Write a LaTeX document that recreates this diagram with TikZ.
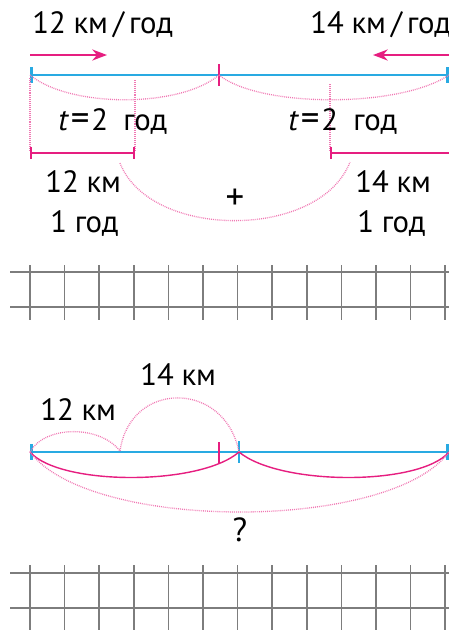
\documentclass[tikz,border=0pt]{standalone}
\usepackage{fontspec}
\setmainfont{PT Sans}
\usetikzlibrary{arrows.meta}

\definecolor{roadblue}{RGB}{41,170,226}
\definecolor{magline}{RGB}{230,30,128}
\definecolor{gridgray}{RGB}{125,125,125}

\tikzset{
  road/.style={roadblue, line width=1.6pt},
  part/.style={magline, line width=1.4pt},
  hint/.style={magline!60, line width=0.75pt, dash pattern=on 0.5pt off 0.6pt},
  label/.style={inner sep=0pt, anchor=base west, font=\fontsize{17.5}{20}\selectfont},
  gridline/.style={gridgray, line width=0.9pt}
}
\newcommand{\gap}{\hspace{0.25em}}

\begin{document}
\begin{tikzpicture}[x=0.02cm, y=-0.02cm, >=Stealth, line cap=butt]
  \useasboundingbox (0,0) rectangle (449,630);

  % speeds and directions
  \node[label] (speedL) at (32,33) {12\gap км\,/\,год};
  \node[label] (speedR) at (310,33) {14\gap км\,/\,год};
  \draw[->, magline, line width=1.2pt] (30,55) -- (107,55);
  \draw[->, magline, line width=1.2pt] (449,55) -- (373,55);

  % the whole road
  \coordinate (A) at (30,75);
  \coordinate (M) at (219,75);
  \coordinate (B) at (449,75);
  \draw[road, {Bar[width=9pt]}-{Bar[width=9pt]}] (A) -- (B);
  \draw[magline, line width=1.4pt] (219,64) -- (219,86);
  \draw[hint] (A) .. controls (70,108) and (180,108) .. (M);
  \draw[hint] (M) .. controls (260,108) and (400,108) .. (B);

  % one hour of each
  \draw[hint] (30,78) -- (30,150);
  \draw[hint] (135,80) -- (135,150);
  \draw[hint] (330,84) -- (330,150);
  \node[label] (timeL) at (58,130) {\textit{t}\kern1pt{\fontsize{21}{20}\selectfont=}\kern1pt2\gap\gap год};
  \node[label] (timeR) at (288,130) {\textit{t}\kern1pt{\fontsize{21}{20}\selectfont=}\kern1pt2\gap\gap год};
  \draw[part, {Bar[width=7pt]}-{Bar[width=7pt]}] (30,153) -- (135,153);
  \draw[part, {Bar[width=7pt]}-] (330,153) -- (449,153);

  \node[label] (distL) at (45,192) {12\gap км};
  \node[label] (hourL) at (50,232) {1\gap год};
  \node[label] (distR) at (355,192) {14\gap км};
  \node[label] (hourR) at (357,232) {1\gap год};
  \node[font=\fontsize{21}{24}\selectfont, inner sep=0pt] (plus) at (235,199) {+};
  \draw[hint] (120,163) .. controls (150,240) and (320,240) .. (350,162);

  % first grid
  \draw[gridline] (10,272) -- (449,272);
  \draw[gridline] (10,307) -- (449,307);
  \foreach \k in {0,...,12}
    \draw[gridline] (30+34.6*\k,265) -- (30+34.6*\k,320);

  % second drawing
  \node[label] (kmB) at (140,385) {14\gap км};
  \node[label] (kmA) at (40,420) {12\gap км};
  \coordinate (P) at (30,452);
  \coordinate (C) at (120,451);
  \coordinate (Q) at (239,452);
  \coordinate (R) at (449,452);
  \draw[road, {Bar[width=9pt]}-{Bar[width=9pt]}] (P) -- (R);
  \draw[roadblue, line width=1.6pt] (239,441) -- (239,463);
  \draw[magline, line width=1.4pt] (219,442) -- (219,463);
  \draw[magline, line width=0.8pt] (P) .. controls (60,486) and (200,486) .. (Q);
  \draw[magline, line width=0.8pt] (Q) .. controls (280,486) and (420,486) .. (R);
  \draw[hint] (P) .. controls (45,425) and (100,425) .. (C);
  \draw[hint] (C) .. controls (130,380) and (225,380) .. (Q);
  \draw[hint] (P) .. controls (90,532) and (390,532) .. (R);
  \node[label, anchor=base, font=\fontsize{19}{22}\selectfont] (ask) at (240,541) {?};

  % second grid
  \draw[gridline] (10,573) -- (449,573);
  \draw[gridline] (10,608) -- (449,608);
  \foreach \k in {0,...,12}
    \draw[gridline] (30+34.6*\k,565) -- (30+34.6*\k,630);

\end{tikzpicture}
\end{document}
